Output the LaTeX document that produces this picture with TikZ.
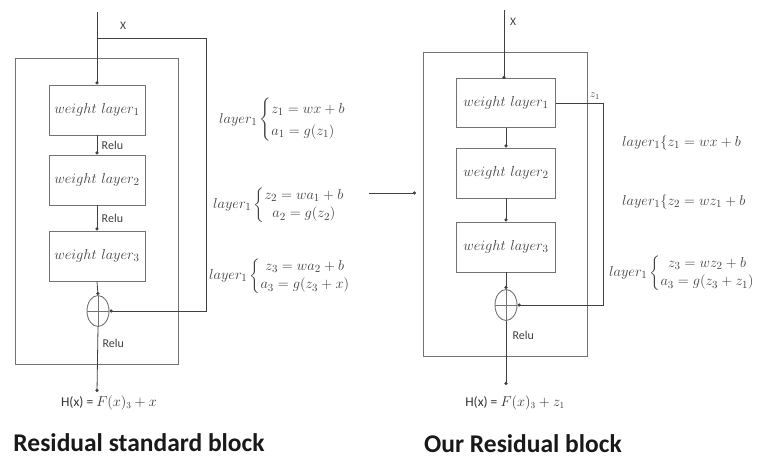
\documentclass[tikz,border=0pt]{standalone}
\usepackage{amsmath}
\usepackage{fontspec}
\setsansfont{Carlito}
\usetikzlibrary{shapes.geometric,arrows.meta}
\tikzset{
  wbox/.style={draw=black!55, line width=0.9pt, minimum width=96pt, minimum height=50pt, inner sep=0pt, font=\fontsize{15.5}{18}\selectfont, text=black!75},
  outer/.style={draw=black!55, line width=0.9pt},
  conn/.style={draw=black!75, line width=0.8pt},
  arr/.style={conn, -{Circle[length=3.2pt]}},
  plus/.style={draw=black!55, line width=0.9pt, ellipse, minimum width=22pt, minimum height=31pt, inner sep=0pt,
    path picture={\draw[black!55, line width=0.8pt] (path picture bounding box.north) -- (path picture bounding box.south);
                  \draw[black!55, line width=0.8pt] (path picture bounding box.west) -- (path picture bounding box.east);}},
  relu/.style={font=\sffamily\fontsize{12}{14}\selectfont, text=black!75, anchor=west},
  xlab/.style={font=\sffamily\fontsize{11.5}{14}\selectfont, text=black!75},
  eq/.style={font=\fontsize{15.5}{18.5}\selectfont, text=black!75, anchor=west, inner sep=0pt},
  title/.style={font=\sffamily\bfseries\fontsize{25.5}{29}\selectfont, text=black!90, inner sep=0pt},
  hx/.style={font=\fontsize{13.5}{16}\selectfont, text=black!80}
}
\begin{document}
\begin{tikzpicture}[x=1pt,y=-1pt]
\useasboundingbox (0,0) rectangle (759,461);
% ---------- left block ----------
\draw[outer] (15,58) rectangle (178,364);
\node[wbox] (L1) at (97,110) {$weight\ layer_1$};
\node[wbox] (L2) at (97,180) {$weight\ layer_2$};
\node[wbox] (L3) at (97,256) {$weight\ layer_3$};
\node[plus] (Lc) at (98,311) {};
\coordinate (Lin) at (97,12);
\coordinate (Ls) at (97,38);
\coordinate (Lr) at (206,38);
\coordinate (Lout) at (97,392);
\draw[arr] (Lin) -- (L1.north);
\draw[conn] (Ls) -- (Lr);
\draw[arr] (Lr) |- (Lc.east);
\node[xlab] (LX) at (123,26) {X};
\draw[arr] (L1.south) -- node[relu, pos=0.5, xshift=1pt] (Lrelu1) {Relu} (L2.north);
\draw[arr] (L2.south) -- node[relu, pos=0.5, xshift=1pt] (Lrelu2) {Relu} (L3.north);
\draw[arr] (L3.south) -- (Lc.north);
\draw[arr] (Lc.south) -- (Lout);
\node[relu] (Lrelu3) at (99,343) {Relu};
\node[hx] (LH) at (109,403) {\sffamily H(x) = $F(x)_3 + x$};
\node[title] (LT) at (139,443) {Residual standard block};
% equations left
\node[eq] (E1) at (219,120) {$layer_1\begin{cases} z_1 = wx + b\\ a_1 = g(z_1)\end{cases}$};
\node[eq] (E2) at (213,205) {$layer_1\left\{\begin{array}{@{}c@{}} z_2 = wa_1 + b\\ a_2 = g(z_2)\end{array}\right.$};
\node[eq] (E3) at (209,276) {$layer_1\left\{\begin{array}{@{}c@{}} z_3 = wa_2 + b\\ a_3 = g(z_3 + x)\end{array}\right.$};
% middle arrow
\coordinate (Ma) at (369,193);
\coordinate (Mb) at (416,193);
\draw[arr] (Ma) -- (Mb);
% ---------- right block ----------
\draw[outer] (423,52) rectangle (587,356);
\node[wbox, minimum width=99pt, minimum height=49pt] (R1) at (506,103) {$weight\ layer_1$};
\node[wbox, minimum width=99pt, minimum height=50pt] (R2) at (506,173) {$weight\ layer_2$};
\node[wbox, minimum width=99pt, minimum height=50pt] (R3) at (506,247) {$weight\ layer_3$};
\node[plus] (Rc) at (506,305) {};
\coordinate (Rin) at (504,10);
\coordinate (Rs) at (603,103);
\coordinate (Rout) at (506,385);
\draw[arr] (Rin) -- (504,79);
\node[xlab] (RX) at (513,22) {X};
\draw[conn] (R1.east) -- (Rs);
\draw[arr] (Rs) |- (Rc.east);
\node[font=\fontsize{11}{13}\selectfont, text=black!75] (Rz) at (595,96) {$z_1$};
\draw[arr] (R1.south) -- (R2.north);
\draw[arr] (R2.south) -- (R3.north);
\draw[arr] (R3.south) -- (Rc.north);
\draw[arr] (Rc.south) -- (Rout);
\node[relu] (Rrelu) at (509,335) {Relu};
\node[hx] (RH) at (515,403) {\sffamily H(x) = $F(x)_3 + z_1$};
\node[title] (RT) at (523,444) {Our Residual block};
% equations right
\node[eq] (F1) at (622,143) {$layer_1\{z_1 = wx + b$};
\node[eq] (F2) at (622,202) {$layer_1\{z_2 = wz_1 + b$};
\node[eq] (F3) at (609,273) {$layer_1\left\{\begin{array}{@{}c@{}} z_3 = wz_2 + b\\ a_3 = g(z_3 + z_1)\end{array}\right.$};
\end{tikzpicture}
\end{document}
